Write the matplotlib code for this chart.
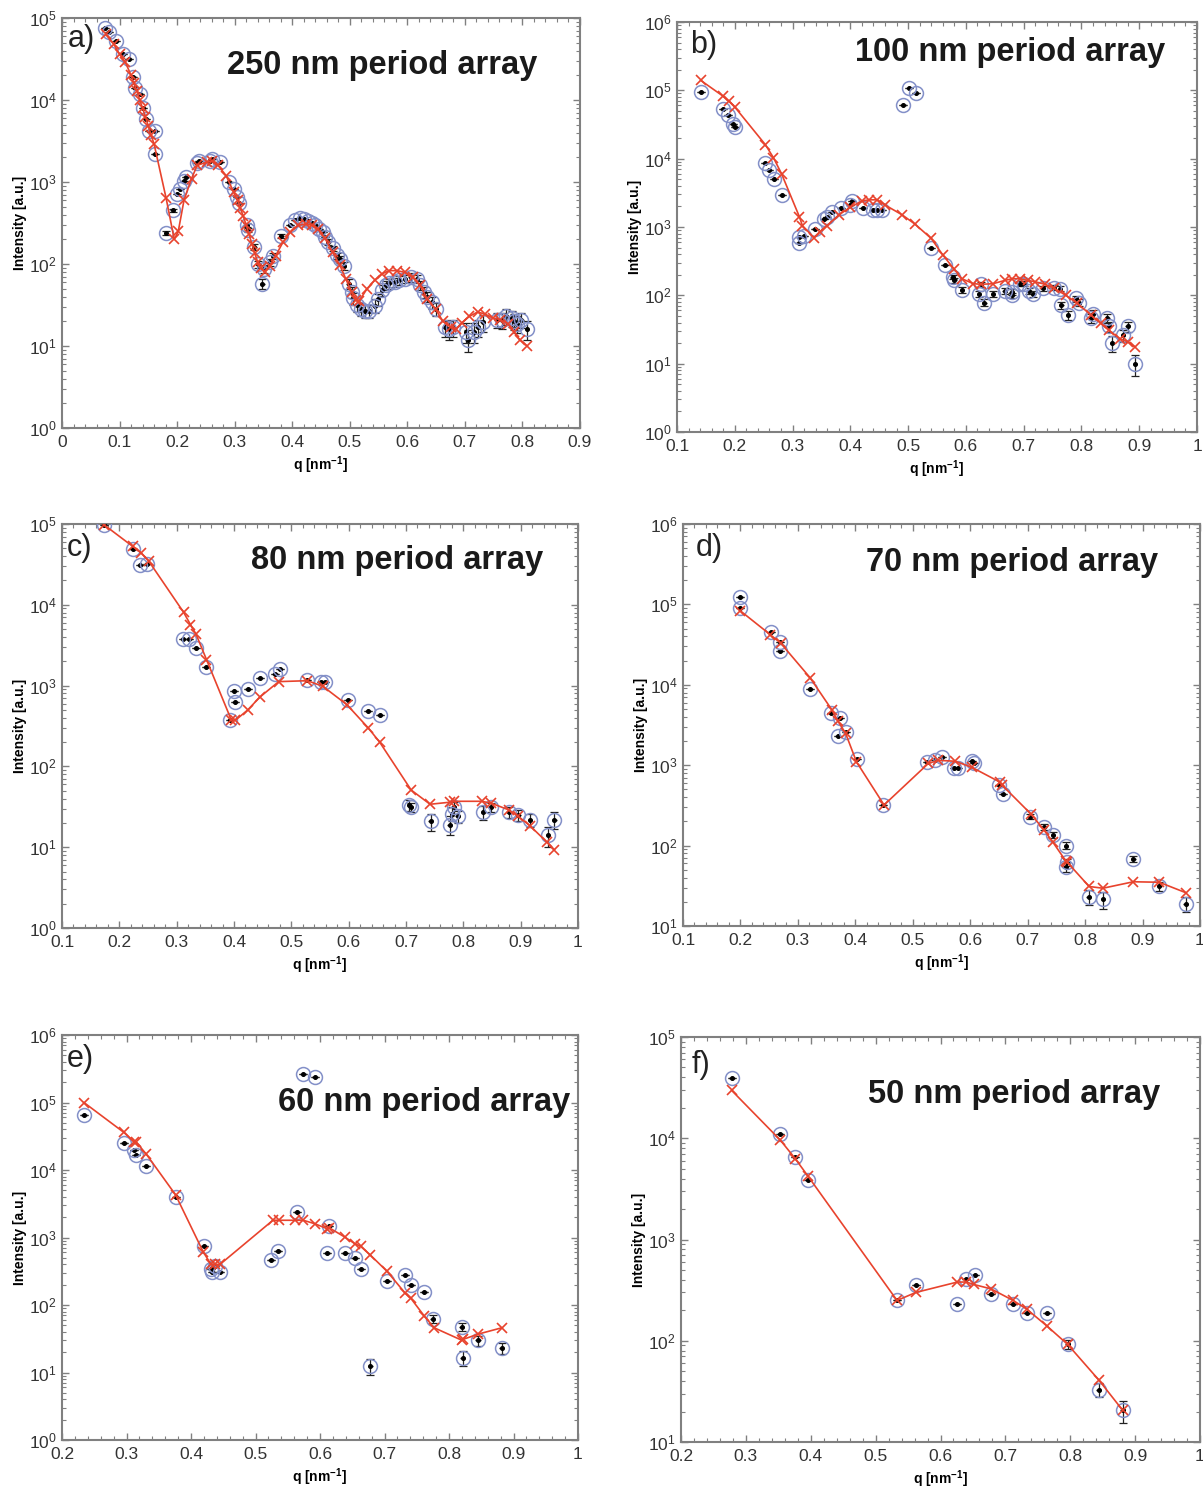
import numpy as np
import matplotlib
matplotlib.use("Agg")
import matplotlib.pyplot as plt
from matplotlib.ticker import FixedLocator, MultipleLocator, LogLocator, NullFormatter, FuncFormatter

plt.rcParams['font.family'] = ['Liberation Sans', 'DejaVu Sans']
plt.rcParams['mathtext.fontset'] = 'custom'
plt.rcParams['mathtext.rm'] = 'Liberation Sans'
plt.rcParams['mathtext.default'] = 'regular'

# ---- panel a) 250 nm ----
a_q = [0.074, 0.081, 0.093, 0.106, 0.116, 0.124, 0.126, 0.136, 0.140, 0.146,
       0.151, 0.161, 0.161, 0.181, 0.192, 0.200, 0.205, 0.212, 0.215, 0.234,
       0.238, 0.257, 0.261, 0.275, 0.291, 0.299, 0.304, 0.308, 0.321, 0.324,
       0.334, 0.341, 0.348, 0.351, 0.361, 0.367, 0.381, 0.397, 0.404, 0.414,
       0.420, 0.427, 0.434, 0.440, 0.447, 0.453, 0.457, 0.463, 0.470, 0.477,
       0.483, 0.490, 0.498, 0.503, 0.506, 0.513, 0.520, 0.526, 0.533, 0.543,
       0.549, 0.556, 0.563, 0.569, 0.579, 0.586, 0.596, 0.606, 0.616, 0.622,
       0.629, 0.635, 0.642, 0.649, 0.665, 0.672, 0.679, 0.702, 0.705, 0.715,
       0.722, 0.731, 0.755, 0.765, 0.771, 0.781, 0.785, 0.791, 0.798, 0.808]
a_I = [75000, 67000, 53000, 36000, 32000, 19000, 14000, 12000, 8000, 5800,
       4200, 4200, 2200, 240, 450, 710, 830, 1020, 1140, 1700,
       1800, 1800, 1900, 1750, 1000, 830, 660, 550, 300, 260,
       160, 100, 57, 87, 105, 126, 220, 300, 340, 360,
       355, 335, 315, 300, 270, 245, 215, 185, 155, 127,
       115, 95, 57, 46, 38, 32, 28, 27, 27, 31,
       37, 48, 55, 58, 60, 63, 66, 69, 66, 55,
       46, 40, 34, 28, 17, 16, 17, 15, 12, 15,
       17, 19.5, 21, 20.5, 23, 22, 20, 18.6, 21, 16]
a_err = [0, 0, 0, 0, 0, 0, 0, 0, 0, 0,
         0, 0, 0, 15, 21, 0, 0, 0, 0, 0,
         0, 0, 0, 0, 0, 0, 0, 0, 17, 16,
         13, 10, 8, 9, 10, 11, 15, 0, 0, 0,
         0, 0, 0, 0, 0, 0, 0, 14, 12, 11,
         11, 10, 8, 7, 6, 6, 5, 5, 5, 6,
         6, 7, 7, 8, 8, 8, 8, 8, 8, 7,
         7, 6, 6, 5, 4, 4, 4, 4, 3.5, 4,
         4, 4.5, 4.5, 4.5, 5, 5, 4.5, 4.3, 4.6, 4]
a_fit_q = [0.076, 0.090, 0.100, 0.110, 0.120, 0.125, 0.130, 0.135, 0.140, 0.145,
           0.150, 0.155, 0.160, 0.181, 0.195, 0.202, 0.212, 0.225, 0.235, 0.252,
           0.260, 0.271, 0.285, 0.298, 0.305, 0.310, 0.315, 0.320, 0.325, 0.330,
           0.335, 0.340, 0.345, 0.352, 0.361, 0.371, 0.384, 0.397, 0.410, 0.424,
           0.434, 0.444, 0.457, 0.470, 0.483, 0.493, 0.503, 0.510, 0.516, 0.530,
           0.543, 0.556, 0.569, 0.582, 0.596, 0.609, 0.622, 0.635, 0.649, 0.662,
           0.675, 0.685, 0.695, 0.708, 0.722, 0.735, 0.748, 0.761, 0.775, 0.785,
           0.795, 0.808]
a_fit_I = [63000, 48000, 36000, 29000, 20000, 16000, 13000, 10000, 8000, 6200,
           4800, 3700, 2900, 630, 200, 250, 600, 1100, 1600, 1750,
           1800, 1600, 1200, 760, 600, 480, 380, 300, 230, 175,
           135, 105, 90, 80, 95, 125, 185, 245, 295, 310,
           295, 270, 205, 140, 96, 66, 46, 36, 35, 50,
           63, 76, 83, 83, 79, 69, 55, 37, 28, 20,
           17, 16, 19.3, 23, 26, 24.5, 22, 21, 18.6, 15,
           12, 10]

# ---- panel b) 100 nm ----
b_q = [0.141, 0.179, 0.189, 0.197, 0.200, 0.252, 0.259, 0.268, 0.281, 0.312,
       0.312, 0.320, 0.338, 0.355, 0.360, 0.368, 0.383, 0.400, 0.403, 0.422,
       0.440, 0.447, 0.455, 0.492, 0.502, 0.513, 0.539, 0.563, 0.577, 0.580,
       0.593, 0.623, 0.627, 0.632, 0.647, 0.667, 0.679, 0.680, 0.693, 0.700,
       0.710, 0.717, 0.733, 0.752, 0.763, 0.765, 0.777, 0.790, 0.795, 0.817,
       0.820, 0.845, 0.847, 0.853, 0.872, 0.880, 0.893]
b_I = [95000, 54000, 43000, 32000, 29000, 8700, 6900, 5100, 2900, 720,
       590, 740, 950, 1300, 1400, 1650, 1900, 2100, 2400, 1900,
       1800, 1750, 1750, 60000, 107000, 91000, 490, 275, 185, 165,
       120, 105, 145, 78, 105, 117, 112, 100, 148, 148,
       117, 105, 126, 130, 125, 71, 51, 90, 78, 46,
       54, 46, 35, 20, 26, 35, 10]
b_err = [0, 0, 0, 0, 0, 0, 0, 0, 0, 0,
         0, 0, 0, 0, 0, 0, 0, 0, 0, 0,
         0, 0, 0, 0, 0, 0, 0, 0, 14, 13,
         11, 10, 12, 9, 10, 11, 11, 10, 12, 12,
         11, 10, 11, 11, 11, 8, 7, 9, 9, 7,
         7, 7, 6, 5, 5, 6, 3.3]
b_fit_q = [0.141, 0.179, 0.190, 0.200, 0.253, 0.267, 0.281, 0.312, 0.317, 0.337,
           0.347, 0.360, 0.380, 0.400, 0.420, 0.433, 0.447, 0.460, 0.490, 0.512,
           0.540, 0.560, 0.580, 0.593, 0.613, 0.627, 0.647, 0.667, 0.680, 0.693,
           0.707, 0.720, 0.737, 0.753, 0.773, 0.793, 0.817, 0.833, 0.847, 0.867,
           0.880, 0.893]
b_fit_I = [140000, 83000, 69000, 57000, 16000, 10300, 6000, 1400, 1050, 700,
           850, 1050, 1500, 1950, 2400, 2500, 2500, 2100, 1500, 1100,
           680, 390, 240, 175, 148, 145, 148, 165, 175, 175,
           165, 158, 145, 127, 100, 76, 51, 39, 31, 23,
           21, 17.5]

# ---- panel c) 80 nm ----
c_q = [0.174, 0.223, 0.236, 0.249, 0.311, 0.322, 0.334, 0.352, 0.393, 0.400,
       0.402, 0.424, 0.445, 0.472, 0.480, 0.528, 0.551, 0.558, 0.599, 0.634,
       0.654, 0.705, 0.708, 0.743, 0.776, 0.780, 0.783, 0.790, 0.835, 0.848,
       0.879, 0.896, 0.916, 0.948, 0.959]
c_I = [97000, 49000, 31000, 32000, 3800, 3800, 2900, 1700, 380, 850,
       630, 910, 1250, 1400, 1600, 1170, 1120, 1120, 660, 490,
       430, 33, 31, 21, 19, 26, 31, 24, 27, 31,
       27, 25, 22, 14, 22]
c_err = [0, 0, 0, 0, 0, 0, 0, 0, 0, 0,
         0, 0, 0, 0, 0, 0, 0, 0, 0, 0,
         0, 5, 4, 5, 5, 5, 5, 4, 5, 4,
         4, 4, 4, 4, 5]
c_fit_q = [0.174, 0.223, 0.238, 0.251, 0.312, 0.324, 0.334, 0.352, 0.395, 0.402,
           0.424, 0.445, 0.478, 0.528, 0.555, 0.597, 0.634, 0.654, 0.709, 0.742,
           0.776, 0.783, 0.832, 0.849, 0.879, 0.896, 0.916, 0.946, 0.959]
c_fit_I = [97000, 53000, 44000, 35000, 8100, 5700, 4300, 2100, 380, 370,
           500, 720, 1120, 1150, 980, 580, 300, 200, 51, 34,
           36, 37, 37, 35, 29, 24, 18.5, 11.5, 9.3]

# ---- panel d) 70 nm ----
d_q = [0.200, 0.200, 0.254, 0.269, 0.268, 0.321, 0.358, 0.373, 0.370, 0.383,
       0.403, 0.449, 0.524, 0.539, 0.550, 0.571, 0.578, 0.603, 0.606, 0.650,
       0.657, 0.704, 0.729, 0.744, 0.767, 0.766, 0.769, 0.806, 0.831, 0.884,
       0.929, 0.975]
d_I = [124000, 91000, 46000, 34000, 26000, 8800, 4400, 3900, 2300, 2600,
       1200, 320, 1100, 1150, 1270, 930, 930, 1120, 1050, 560,
       440, 230, 170, 135, 100, 54, 62, 23, 21.5, 68,
       31, 19]
d_err = [0, 0, 0, 0, 0, 0, 0, 0, 0, 0,
         0, 0, 0, 0, 0, 0, 0, 0, 0, 0,
         0, 15, 13, 12, 10, 7, 7, 5, 5, 6,
         4, 4]
d_fit_q = [0.200, 0.252, 0.270, 0.321, 0.359, 0.370, 0.383, 0.402, 0.450, 0.527,
           0.544, 0.574, 0.603, 0.651, 0.656, 0.705, 0.728, 0.744, 0.766, 0.769,
           0.807, 0.831, 0.884, 0.929, 0.975]
d_fit_I = [83000, 42000, 33000, 12300, 4900, 3500, 2500, 1100, 320, 1050,
           1150, 1120, 940, 620, 560, 250, 158, 110, 65, 62,
           31, 29.5, 35.5, 35, 26]

# ---- panel e) 60 nm ----
e_q = [0.234, 0.296, 0.312, 0.314, 0.331, 0.376, 0.420, 0.431, 0.433, 0.437,
       0.445, 0.524, 0.535, 0.564, 0.574, 0.592, 0.611, 0.614, 0.638, 0.654,
       0.663, 0.678, 0.704, 0.732, 0.741, 0.762, 0.775, 0.820, 0.821, 0.845,
       0.882]
e_I = [65000, 25000, 19700, 16500, 11500, 4000, 740, 340, 310, 375,
       310, 470, 630, 2400, 260000, 240000, 590, 1500, 590, 490,
       340, 12.6, 230, 280, 200, 155, 63, 48, 16.6, 30,
       23]
e_err = [0, 0, 0, 0, 0, 0, 0, 0, 0, 0,
         0, 0, 0, 0, 0, 0, 0, 0, 0, 0,
         0, 3.5, 0, 0, 0, 0, 8, 7, 4, 5,
         4]
e_fit_q = [0.234, 0.296, 0.312, 0.315, 0.331, 0.376, 0.419, 0.431, 0.437, 0.445,
           0.527, 0.536, 0.562, 0.574, 0.592, 0.611, 0.614, 0.638, 0.654, 0.663,
           0.678, 0.704, 0.732, 0.741, 0.762, 0.777, 0.820, 0.822, 0.845, 0.882]
e_fit_I = [100000, 36000, 26000, 26000, 17000, 4300, 610, 400, 400, 400,
           1800, 1800, 1800, 1800, 1600, 1350, 1400, 1020, 810, 740,
           550, 315, 150, 125, 68, 46, 30, 31, 37, 46]

# ---- panel f) 50 nm ----
f_q = [0.278, 0.353, 0.376, 0.396, 0.533, 0.562, 0.626, 0.640, 0.653, 0.678,
       0.712, 0.733, 0.764, 0.796, 0.844, 0.881]
f_I = [39500, 11000, 6500, 3900, 250, 355, 230, 405, 445, 290,
       230, 190, 187, 92, 33, 20.5]
f_err = [0, 0, 0, 0, 0, 0, 0, 0, 0, 0,
         0, 0, 0, 9, 5, 5]
f_fit_q = [0.278, 0.353, 0.376, 0.396, 0.533, 0.562, 0.626, 0.640, 0.651, 0.678,
           0.712, 0.733, 0.764, 0.796, 0.844, 0.881]
f_fit_I = [29700, 9600, 6300, 4200, 250, 300, 380, 380, 360, 325,
           250, 205, 140, 92, 41, 20.5]

W, H = 1203, 1493
GRAY = '#808080'
RED = '#e8432d'
CIRCLE = '#8390c8'


def draw_panel(fig, box, letter, title, title_pos, letter_pos,
               q, I, err, fit_q, fit_I, xlim, ylim_exp):
    left, right, top, bottom = box
    ax = fig.add_axes([left / W, 1 - bottom / H, (right - left) / W, (bottom - top) / H])

    # measured data: black dot + error bars + open circle
    ax.errorbar(q, I, xerr=0.004, fmt='none', ecolor='black', elinewidth=1.0, capsize=0, zorder=2)
    ax.errorbar(q, I, yerr=err, fmt='o', color='black', ms=2.6, ecolor='#222222',
                elinewidth=0.9, capsize=3, capthick=0.9, zorder=3)
    ax.plot(q, I, 'o', ms=10, mfc='none', mec=CIRCLE, mew=1.1, zorder=4)

    # model fit
    ax.plot(fit_q, fit_I, '-x', color=RED, lw=1.2, ms=7, mew=1.2, zorder=5)

    ax.set_yscale('log')
    ax.set_xlim(*xlim)
    ax.set_ylim(10.0 ** ylim_exp[0], 10.0 ** ylim_exp[1])

    ax.xaxis.set_major_locator(MultipleLocator(0.1))
    ax.xaxis.set_minor_locator(MultipleLocator(0.02))
    ax.xaxis.set_major_formatter(FuncFormatter(lambda v, p: '%g' % round(v, 2)))
    ax.yaxis.set_major_locator(FixedLocator([10.0 ** k for k in range(ylim_exp[0], ylim_exp[1] + 1)]))
    ax.yaxis.set_minor_locator(LogLocator(base=10, subs=np.arange(2, 10), numticks=20))
    ax.yaxis.set_minor_formatter(NullFormatter())
    ax.yaxis.set_major_formatter(FuncFormatter(lambda v, p: r'$10^{%d}$' % round(np.log10(v))))

    ax.tick_params(which='both', direction='in', top=True, right=True, color=GRAY,
                   labelsize=12.5, labelcolor='#333333')
    ax.tick_params(axis='x', pad=5)
    ax.tick_params(axis='y', pad=4)
    ax.tick_params(which='major', length=5, width=1)
    ax.tick_params(which='minor', length=3, width=0.8)
    for s in ax.spines.values():
        s.set_color(GRAY)
        s.set_linewidth(1.5)

    ax.set_xlabel(r'q [nm$^{-1}$]', fontsize=10, fontweight='bold', labelpad=3)
    ax.set_ylabel('Intensity [a.u.]', fontsize=10, fontweight='bold', labelpad=1)

    ax.text(letter_pos[0], letter_pos[1], letter, transform=ax.transAxes,
            fontsize=22, color='#222222', ha='left', va='center')
    ax.text(title_pos[0], title_pos[1], title, transform=ax.transAxes,
            fontsize=23.5, fontweight='bold', color='#1a1a1a', ha='right', va='center')
    return ax


def main():
    fig = plt.figure(figsize=(W / 100, H / 100), dpi=100)

    draw_panel(fig, (62, 580, 18, 428), 'a)', '250 nm period array', (0.917, 0.885), (0.012, 0.95),
               a_q, a_I, a_err, a_fit_q, a_fit_I, (0, 0.9), (0, 5))
    draw_panel(fig, (677, 1197, 22, 432), 'b)', '100 nm period array', (0.938, 0.925), (0.025, 0.945),
               b_q, b_I, b_err, b_fit_q, b_fit_I, (0.1, 1.0), (0, 6))
    draw_panel(fig, (62, 578, 524, 928), 'c)', '80 nm period array', (0.932, 0.91), (0.01, 0.94),
               c_q, c_I, c_err, c_fit_q, c_fit_I, (0.1, 1.0), (0, 5))
    draw_panel(fig, (683, 1200, 524, 926), 'd)', '70 nm period array', (0.919, 0.903), (0.025, 0.94),
               d_q, d_I, d_err, d_fit_q, d_fit_I, (0.1, 1.0), (1, 6))
    draw_panel(fig, (62, 578, 1035, 1440), 'e)', '60 nm period array', (0.984, 0.834), (0.01, 0.94),
               e_q, e_I, e_err, e_fit_q, e_fit_I, (0.2, 1.0), (0, 6))
    draw_panel(fig, (681, 1200, 1037, 1442), 'f)', '50 nm period array', (0.923, 0.857), (0.02, 0.93),
               f_q, f_I, f_err, f_fit_q, f_fit_I, (0.2, 1.0), (1, 5))

    fig.savefig('out.png', dpi=100, facecolor='white')


if __name__ == "__main__":
    main()
